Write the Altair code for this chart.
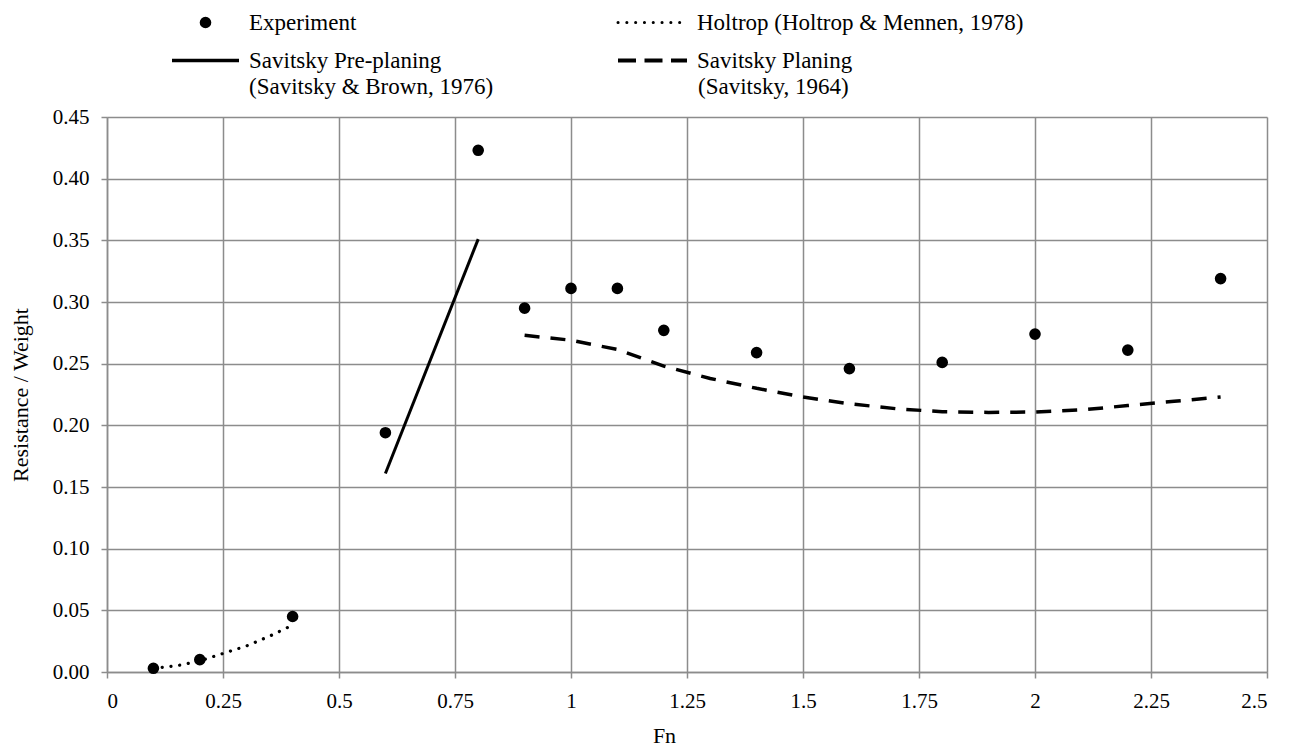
import altair as alt
import pandas as pd

# ---- data ----
exp_fn = [0.1, 0.2, 0.4, 0.6, 0.8, 0.9, 1.0, 1.1, 1.2, 1.4, 1.6, 1.8, 2.0, 2.2, 2.4]
exp_rw = [0.003, 0.010, 0.045, 0.194, 0.423, 0.295, 0.311, 0.311, 0.277, 0.259,
          0.246, 0.251, 0.274, 0.261, 0.319]

holtrop_fn = [0.1, 0.15, 0.2, 0.25, 0.3, 0.35, 0.4]
holtrop_rw = [0.003, 0.005, 0.009, 0.015, 0.021, 0.029, 0.038]

pre_fn = [0.6, 0.8]
pre_rw = [0.161, 0.351]

plan_fn = [0.9, 1.0, 1.1, 1.2, 1.3, 1.4, 1.5, 1.6, 1.7, 1.8, 1.9, 2.0, 2.1, 2.2, 2.3, 2.4]
plan_rw = [0.273, 0.269, 0.2615, 0.248, 0.238, 0.230, 0.223, 0.2175, 0.2135, 0.211,
           0.2105, 0.2108, 0.2125, 0.216, 0.2195, 0.223]

x_ticks = [0, 0.25, 0.5, 0.75, 1, 1.25, 1.5, 1.75, 2, 2.25, 2.5]
y_ticks = [0, 0.05, 0.10, 0.15, 0.20, 0.25, 0.30, 0.35, 0.40, 0.45]

FONT = "'Liberation Serif', 'Times New Roman', 'DejaVu Serif', serif"
GRID = "#8c8c8c"

exp_df = pd.DataFrame({"Fn": exp_fn, "RW": exp_rw})
hol_df = pd.DataFrame({"Fn": holtrop_fn, "RW": holtrop_rw})
pre_df = pd.DataFrame({"Fn": pre_fn, "RW": pre_rw})
plan_df = pd.DataFrame({"Fn": plan_fn, "RW": plan_rw})

xs = alt.Scale(domain=[0, 2.5], nice=False, zero=False)
ys = alt.Scale(domain=[0, 0.45], nice=False)

xax = alt.Axis(values=x_ticks, labelExpr="format(datum.value, '~g')", title="Fn",
               grid=True, gridColor=GRID, gridWidth=1.5, domainColor=GRID, domainWidth=1.5,
               tickColor=GRID, tickWidth=1.5, tickSize=6, labelFont=FONT, labelFontSize=21,
               labelColor="black", labelPadding=12, titleFont=FONT, titleFontSize=22,
               titleFontWeight="normal", titleColor="black", titlePadding=14, titleX=557)
yax = alt.Axis(values=y_ticks, format=".2f", title="Resistance / Weight",
               grid=True, gridColor=GRID, gridWidth=1.5, domainColor=GRID, domainWidth=1.5,
               tickColor=GRID, tickWidth=1.5, tickSize=6, labelFont=FONT, labelFontSize=21,
               labelColor="black", labelPadding=12, titleFont=FONT, titleFontSize=22,
               titleFontWeight="normal", titleColor="black", titlePadding=20)

base_x = alt.X("Fn:Q", scale=xs, axis=xax)
base_y = alt.Y("RW:Q", scale=ys, axis=yax)

holtrop = alt.Chart(hol_df).mark_line(color="black", strokeWidth=3.2, strokeDash=[0.1, 8.7],
                                      strokeCap="round").encode(x=base_x, y=base_y)
pre = alt.Chart(pre_df).mark_line(color="black", strokeWidth=3).encode(x=base_x, y=base_y)
plan = alt.Chart(plan_df).mark_line(color="black", strokeWidth=3.5, strokeDash=[15, 11]).encode(
    x=base_x, y=base_y)
pts = alt.Chart(exp_df).mark_point(filled=True, color="black", opacity=1, size=135,
                                   shape="circle").encode(x=base_x, y=base_y)

one = pd.DataFrame({"k": [0]})


def txt(s, x, y):
    return alt.Chart(one).mark_text(align="left", baseline="middle", font=FONT, fontSize=23,
                                    color="black").encode(
        x=alt.value(x), y=alt.value(y), text=alt.value(s))


def rule(x1, x2, y, **kw):
    return alt.Chart(one).mark_rule(color="black", **kw).encode(
        x=alt.value(x1), x2=alt.value(x2), y=alt.value(y))


legend = [
    alt.Chart(one).mark_point(filled=True, color="black", opacity=1, size=135, shape="circle").encode(
        x=alt.value(98.5), y=alt.value(-94.5)),
    txt("Experiment", 142, -94.5),
    rule(65, 132, -56.5, strokeWidth=3.5),
    txt("Savitsky Pre-planing", 142, -56),
    txt("(Savitsky & Brown, 1976)", 142, -30),
    rule(511, 580, -94.5, strokeWidth=3, strokeDash=[0.1, 8.7], strokeCap="round"),
    txt("Holtrop (Holtrop & Mennen, 1978)", 590, -94.5),
    rule(511, 580, -56.5, strokeWidth=4, strokeDash=[18, 8.5]),
    txt("Savitsky Planing", 590, -56),
    txt("(Savitsky, 1964)", 591, -30),
]

chart = alt.layer(holtrop, pre, plan, pts, *legend).properties(
    width=1160, height=555,
    autosize=alt.AutoSizeParams(type="none"),
    padding={"left": 107, "top": 117, "right": 24, "bottom": 79},
    background="white",
).configure_view(strokeWidth=0)

chart.save("out.html", embed_options={"renderer": "svg", "actions": False})
